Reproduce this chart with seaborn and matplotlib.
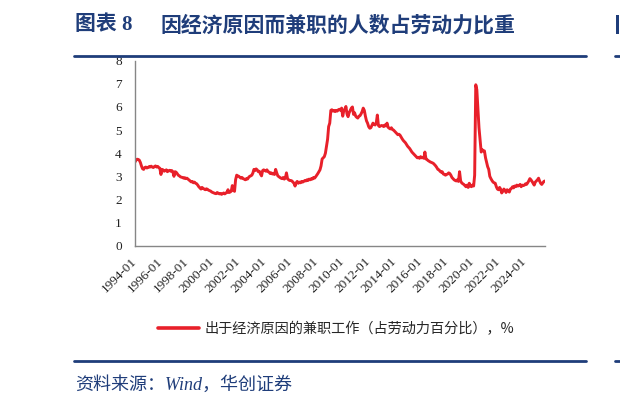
import matplotlib
matplotlib.use("Agg")
import matplotlib.pyplot as plt
from matplotlib.lines import Line2D
from matplotlib.patches import Rectangle
import seaborn as sns
import pandas as pd

# ---------------- data ----------------
start_month = "1994-01"
share_pct = [
    3.62, 3.70, 3.74, 3.73, 3.70, 3.60, 3.45, 3.33, 3.30, 3.38, 3.40, 3.36,  # 1994
    3.38, 3.42, 3.40, 3.44, 3.40, 3.38, 3.42, 3.45, 3.40, 3.43, 3.38, 3.35,  # 1995
    3.08, 3.30, 3.28, 3.22, 3.25, 3.28, 3.20, 3.24, 3.26, 3.22, 3.25, 3.20,  # 1996
    3.00, 3.20, 3.18, 3.12, 3.05, 3.02, 2.98, 2.96, 2.95, 2.92, 2.94, 2.90,  # 1997
    2.92, 2.88, 2.85, 2.80, 2.76, 2.78, 2.72, 2.75, 2.70, 2.68, 2.62, 2.55,  # 1998
    2.50, 2.45, 2.52, 2.48, 2.45, 2.42, 2.46, 2.44, 2.40, 2.38, 2.36, 2.32,  # 1999
    2.30, 2.28, 2.26, 2.25, 2.30, 2.27, 2.24, 2.26, 2.22, 2.25, 2.28, 2.24,  # 2000
    2.28, 2.30, 2.42, 2.30, 2.32, 2.36, 2.60, 2.40, 2.35, 2.85, 3.05, 3.02,  # 2001
    3.00, 2.95, 2.92, 2.95, 2.90, 2.88, 2.85, 2.90, 2.88, 2.95, 3.00, 3.02,  # 2002
    3.05, 3.15, 3.30, 3.25, 3.32, 3.28, 3.20, 3.22, 3.10, 3.02, 3.25, 3.28,  # 2003
    3.25, 3.22, 3.28, 3.20, 3.18, 3.12, 3.15, 3.10, 3.12, 3.08, 3.30, 3.15,  # 2004
    3.02, 2.98, 2.95, 2.92, 2.90, 2.95, 2.88, 2.92, 3.15, 2.90, 2.85, 2.82,  # 2005
    2.82, 2.80, 2.75, 2.70, 2.58, 2.72, 2.78, 2.70, 2.75, 2.72, 2.78, 2.75,  # 2006
    2.78, 2.82, 2.80, 2.85, 2.82, 2.88, 2.85, 2.90, 2.88, 2.95, 2.92, 2.98,  # 2007
    3.05, 3.12, 3.20, 3.28, 3.45, 3.75, 3.80, 3.85, 4.00, 4.30, 4.60, 5.15,  # 2008
    5.30, 5.85, 5.88, 5.82, 5.85, 5.80, 5.85, 5.82, 5.88, 5.90, 5.85, 5.95,  # 2009
    5.60, 5.85, 5.90, 6.02, 5.70, 5.58, 5.75, 5.85, 5.95, 6.00, 5.68, 5.75,  # 2010
    5.60, 5.55, 5.52, 5.60, 5.62, 5.70, 5.80, 5.95, 5.85, 5.60, 5.40, 5.30,  # 2011
    5.15, 5.08, 5.10, 5.20, 5.30, 5.25, 5.22, 5.30, 5.65, 5.20, 5.15, 5.18,  # 2012
    5.20, 5.18, 5.15, 5.22, 5.18, 5.30, 5.12, 5.08, 5.05, 5.10, 5.02, 5.00,  # 2013
    4.95, 4.90, 4.85, 4.80, 4.82, 4.78, 4.70, 4.62, 4.55, 4.50, 4.45, 4.38,  # 2014
    4.30, 4.25, 4.20, 4.12, 4.05, 4.00, 3.95, 3.90, 3.85, 3.80, 3.82, 3.78,  # 2015
    3.85, 3.80, 3.82, 3.78, 4.05, 3.75, 3.72, 3.68, 3.65, 3.62, 3.60, 3.58,  # 2016
    3.55, 3.50, 3.45, 3.38, 3.30, 3.28, 3.22, 3.18, 3.20, 3.10, 3.08, 3.05,  # 2017
    3.08, 3.10, 3.15, 3.12, 3.05, 2.95, 2.90, 2.85, 2.82, 2.80, 2.85, 2.78,  # 2018
    3.20, 2.80, 2.72, 2.68, 2.65, 2.60, 2.55, 2.62, 2.52, 2.70, 2.58, 2.55,  # 2019
    2.62, 2.58, 3.05, 6.96, 6.75, 5.90, 5.10, 4.60, 4.05, 4.15, 4.10, 4.10,  # 2020
    3.80, 3.60, 3.42, 3.30, 3.00, 2.90, 2.82, 2.75, 2.72, 2.70, 2.55, 2.45,  # 2021
    2.42, 2.52, 2.45, 2.28, 2.35, 2.45, 2.40, 2.30, 2.42, 2.38, 2.32, 2.45,  # 2022
    2.48, 2.55, 2.50, 2.58, 2.55, 2.62, 2.58, 2.60, 2.65, 2.55, 2.62, 2.60,  # 2023
    2.62, 2.68, 2.65, 2.72, 2.80, 2.90, 2.85, 2.78, 2.70, 2.62, 2.75, 2.80,  # 2024
    2.85, 2.92, 2.80, 2.70, 2.65, 2.72, 2.78, 2.80,                          # 2025
]
tick_labels = ["1994-01", "1996-01", "1998-01", "2000-01", "2002-01", "2004-01",
               "2006-01", "2008-01", "2010-01", "2012-01", "2014-01", "2016-01",
               "2018-01", "2020-01", "2022-01", "2024-01"]
y_ticks = [0, 1, 2, 3, 4, 5, 6, 7, 8]
series_name = "出于经济原因的兼职工作（占劳动力百分比），%"
title_prefix = "图表 8"
title_text = "因经济原因而兼职的人数占劳动力比重"
source_text = "资料来源：Wind，华创证券"

# ---------------- style ----------------
sns.set_style("white")
plt.rcParams["font.family"] = ["Liberation Serif", "Noto Sans CJK SC", "DejaVu Sans"]

NAVY = "#1F3D7A"
RED = "#E8202A"
AXIS_GRAY = "#868686"
W, H = 620, 393

dates = pd.date_range(start_month, periods=len(share_pct), freq="MS")
df = pd.DataFrame({"date": dates, "value": share_pct})

fig = plt.figure(figsize=(W / 100, H / 100), dpi=100)
ax_left, ax_right, ax_top, ax_bottom = 135, 545, 60.7, 245.7
ax = fig.add_axes([ax_left / W, 1 - ax_bottom / H,
                   (ax_right - ax_left) / W, (ax_bottom - ax_top) / H])

sns.lineplot(data=df, x="date", y="value", ax=ax, color=RED, linewidth=2.1,
             legend=False)

ax.set_ylim(0, 8)
ax.set_yticks(y_ticks)
ax.set_xlim(dates[0], dates[-1])
ax.set_xticks(pd.to_datetime(tick_labels))
ax.set_xticklabels(tick_labels, rotation=45, ha="right", va="center",
                   rotation_mode="anchor")
ax.set_xlabel("")
ax.set_ylabel("")

for s in ["top", "right"]:
    ax.spines[s].set_visible(False)
for s in ["left", "bottom"]:
    ax.spines[s].set_color(AXIS_GRAY)
    ax.spines[s].set_linewidth(1.0)
ax.tick_params(axis="both", direction="out", length=3, width=1,
               color=AXIS_GRAY, labelcolor="#222222", labelsize=9.5)
ax.tick_params(axis="x", pad=7)
ax.tick_params(axis="y", pad=6.5)
for lab in ax.get_xticklabels() + ax.get_yticklabels():
    lab.set_family("Liberation Serif")

# ---------------- legend ----------------
handle = Line2D([], [], color=RED, linewidth=2.6)
fig.legend([handle], [series_name], loc="center left",
           bbox_to_anchor=(158 / W, 1 - 329 / H), frameon=False,
           handlelength=2.9, handletextpad=0.4, borderpad=0, borderaxespad=0,
           prop={"family": ["Noto Sans CJK SC"], "size": 10.2})

# ---------------- title / decorations ----------------
fig.text(75 / W, 1 - 25 / H, title_prefix, fontsize=15, fontweight="bold",
         color=NAVY, va="center", ha="left",
         family=["Liberation Serif", "Noto Sans CJK SC"])
fig.text(160 / W, 1 - 25 / H, title_text, fontsize=15, fontweight="bold",
         color=NAVY, va="center", ha="left", family=["Noto Sans CJK SC"])
# left edge of the neighbouring panel's title glyph, cut by the image border
fig.add_artist(Rectangle((616 / W, 1 - 34 / H), 2.5 / W, 19 / H,
                         transform=fig.transFigure, color=NAVY, lw=0))

for yy in (55.5, 361.3):
    fig.add_artist(Line2D([73.5 / W, 586.4 / W], [1 - yy / H] * 2,
                          color=NAVY, linewidth=2.0))
    fig.add_artist(Line2D([615 / W, 1.0], [1 - yy / H] * 2,
                          color=NAVY, linewidth=2.0))

fig.text(75 / W, 1 - 385 / H, source_text, fontsize=13, style="italic",
         color=NAVY, va="center", ha="left",
         family=["Liberation Serif", "Noto Sans CJK SC"])

fig.savefig("out.png", dpi=100)
